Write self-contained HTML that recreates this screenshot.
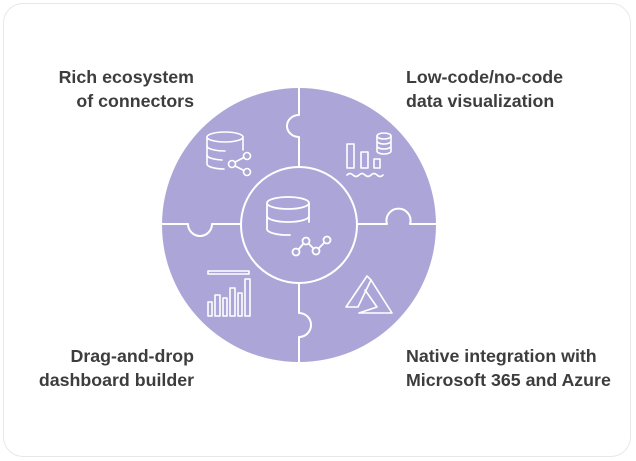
<!DOCTYPE html>
<html><head><style>
body{margin:0;width:636px;height:461px;background:#fff;overflow:hidden;font-family:"Liberation Sans",sans-serif;}
.card{position:absolute;left:3px;top:3px;width:628px;height:454px;border:1.5px solid #e8e8e8;border-radius:20px;box-sizing:border-box;}
.t{position:absolute;font-weight:bold;font-size:17.8px;line-height:24px;color:#3d3d3d;}
</style></head><body>
<div class="card"></div>
<div class="t" style="right:442px;top:65px;text-align:right">Rich ecosystem<br>of connectors</div>
<div class="t" style="left:406px;top:65px">Low-code/no-code<br>data visualization</div>
<div class="t" style="right:442px;top:344px;text-align:right">Drag-and-drop<br>dashboard builder</div>
<div class="t" style="left:406px;top:344px">Native integration with<br>Microsoft 365 and Azure</div>
<svg width="636" height="461" style="position:absolute;left:0;top:0" fill="none" stroke="#fff" stroke-width="2" stroke-linecap="round" stroke-linejoin="round">
<circle cx="299" cy="225" r="137" fill="#aca6d8" stroke="none"/>
<path d="M299 88 V115 A12 11 0 1 0 299 137 V167"/>
<path d="M299 283 V313 A12 12 0 1 1 299 337 V362"/>
<path d="M162 224 H188 A12 12 0 1 0 212 224 H241"/>
<path d="M357 224 H387 A12 12 0 1 1 410 224 H436"/>
<circle cx="299" cy="225" r="58"/>
<g stroke-width="1.8">
<ellipse cx="288" cy="203" rx="21" ry="6"/>
<path d="M267 203 V229 A21 6 0 0 0 290 235"/><path d="M309 203 V222"/>
<path d="M267 216 A21 6 0 0 0 309 216"/>
<circle cx="296" cy="252" r="3.5"/><circle cx="306" cy="241" r="3.5"/><circle cx="316" cy="251" r="3.5"/><circle cx="327" cy="240" r="3.5"/>
<path d="M298.5 249.5 L303.5 243.5 M308.5 243.5 L313.5 248.5 M318.5 248.5 L324.5 242.5"/>
</g>
<g stroke-width="1.6">
<ellipse cx="225" cy="137" rx="18" ry="5"/>
<path d="M207 137 V164 A18 5 0 0 0 224 169"/><path d="M243 137 V150"/>
<path d="M207 146 A18 5 0 0 0 225 151 M207 155 A18 5 0 0 0 222 160"/>
<circle cx="232" cy="164" r="3.5"/><circle cx="247" cy="156" r="3.5"/><circle cx="247" cy="172" r="3.5"/>
<path d="M235 162 L244 157.5 M235 166 L244 170.5"/>
</g>
<g stroke-width="1.6">
<rect x="347" y="144" width="7" height="24"/><rect x="361" y="152" width="7" height="16"/><rect x="374" y="159" width="6" height="9"/>
<ellipse cx="384" cy="136" rx="7" ry="3"/><path d="M377 136 V151 A7 3 0 0 0 391 151 V136 M377 141 A7 3 0 0 0 391 141 M377 146 A7 3 0 0 0 391 146"/>
<path d="M347 175 q3 -3 6 0 t6 0 t6 0 t6 0 t6 0 t6 0"/>
</g>
<g stroke-width="1.6">
<rect x="208" y="271" width="41" height="3"/>
<rect x="208" y="302" width="4" height="14"/><rect x="215" y="295" width="5" height="21"/><rect x="223" y="298" width="4" height="18"/><rect x="230" y="288" width="5" height="28"/><rect x="238" y="293" width="4" height="23"/><rect x="245" y="279" width="5" height="37"/>
</g>
<g stroke-width="1.6">
<path d="M346 307 L367 276 L371 280 L358 307 Z"/>
<path d="M371 280 L392 313 L359 313 L377 307 L365 290"/>
</g>
</svg>
</body></html>
